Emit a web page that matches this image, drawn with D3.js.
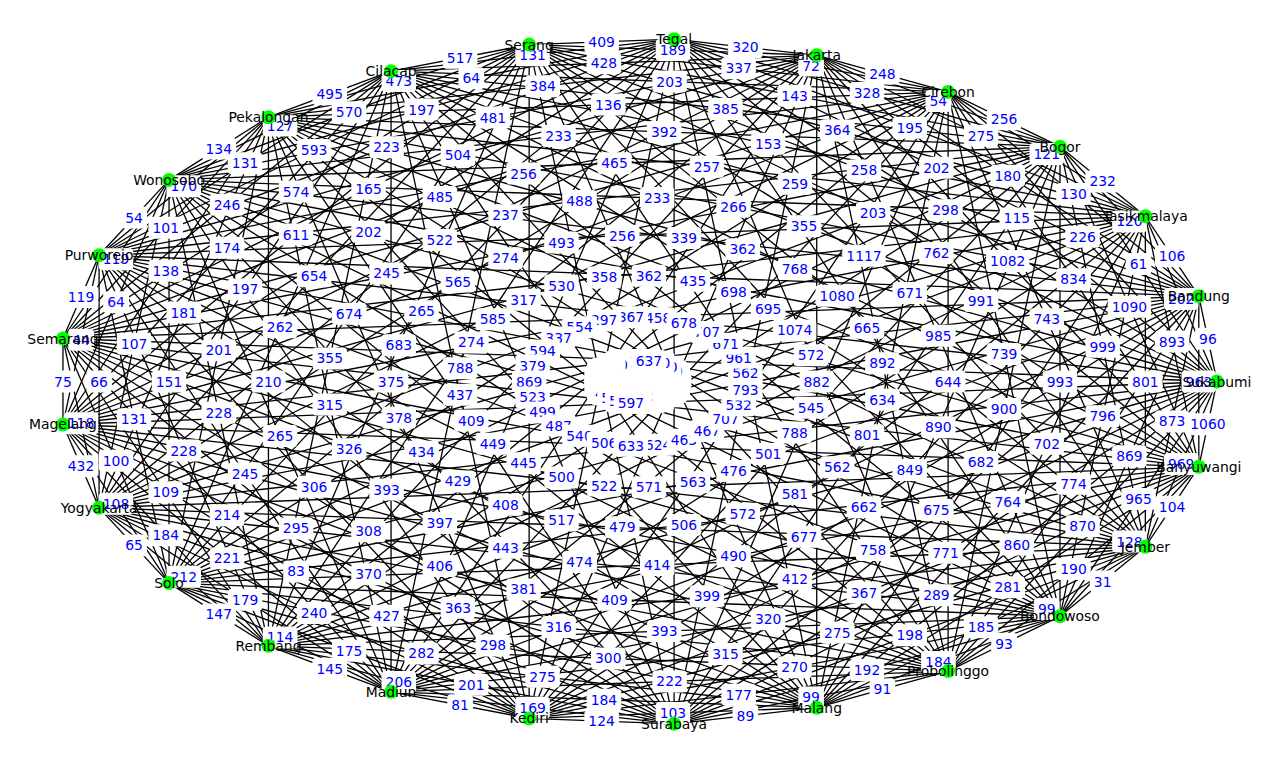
<!DOCTYPE html>
<html>
<head>
<meta charset="utf-8">
<script src="https://cdn.jsdelivr.net/npm/d3@7"></script>
<style>
  body { margin: 0; background: #fff; }
  text { font-family: "DejaVu Sans", sans-serif; font-size: 13.9px; }
</style>
</head>
<body>
<svg id="chart"></svg>
<script>
// cities in layout order (counter-clockwise from the right)
const cities = ["Sukabumi", "Bandung", "Tasikmalaya", "Bogor", "Cirebon", "Jakarta", "Tegal",
  "Serang", "Cilacap", "Pekalongan", "Wonosobo", "Purworejo", "Semarang", "Magelang",
  "Yogyakarta", "Solo", "Rembang", "Madiun", "Kediri", "Surabaya", "Malang", "Probolinggo",
  "Bondowoso", "Jember", "Banyuwangi"];

// distance between city i and city (i + k) % 25, one array per step k
const gap1 = [96, 106, 232, 256, 248, 320, 409, 517, 495, 134, 54, 119, 75, 432, 65, 147, 145, 81, 124, 89, 91, 93, 31, 104, 1060];
const gap2 = [202, 120, 121, 54, 72, 189, 131, 473, 127, 170, 119, 44, 118, 108, 212, 114, 206, 169, 103, 99, 184, 99, 128, 969, 963];
const gap3 = [61, 130, 275, 328, 337, 428, 64, 570, 131, 101, 64, 66, 100, 184, 179, 175, 201, 184, 177, 192, 185, 190, 965, 873, 893];
const gap4 = [226, 180, 195, 143, 203, 384, 197, 593, 246, 138, 107, 131, 109, 221, 240, 282, 275, 222, 270, 198, 281, 870, 869, 801, 1090];
const gap5 = [115, 202, 364, 385, 136, 481, 223, 574, 174, 181, 151, 228, 214, 83, 427, 298, 300, 315, 275, 289, 860, 774, 796, 999, 834];
const gap6 = [298, 258, 153, 392, 233, 504, 165, 611, 197, 201, 228, 245, 295, 370, 363, 316, 393, 320, 367, 771, 764, 702, 993, 743, 1082];
const gap7 = [203, 259, 257, 465, 256, 485, 202, 654, 262, 210, 265, 306, 308, 406, 381, 409, 399, 412, 758, 675, 682, 900, 739, 991, 762];
const gap8 = [355, 266, 233, 488, 237, 522, 245, 674, 355, 315, 326, 393, 397, 443, 474, 414, 490, 677, 662, 849, 890, 644, 985, 671, 1117];
const gap9 = [362, 339, 256, 493, 274, 565, 265, 683, 375, 378, 434, 429, 408, 517, 479, 506, 572, 581, 562, 801, 634, 892, 665, 1080, 768];
const gap10 = [435, 362, 358, 530, 317, 585, 274, 788, 437, 409, 449, 445, 500, 522, 571, 563, 476, 501, 788, 545, 882, 572, 1074, 695, 698];
const gap11 = [458, 367, 297, 554, 337, 594, 379, 869, 523, 499, 487, 540, 506, 633, 624, 463, 467, 707, 532, 793, 562, 961, 671, 707, 678];
const gap12 = [480, 390, 300, 580, 350, 690, 440, 880, 520, 470, 540, 514, 597, 470, 420, 360, 520, 440, 760, 440, 900, 530, 580, 540, 637];

const gaps = [gap1, gap2, gap3, gap4, gap5, gap6, gap7, gap8, gap9, gap10, gap11, gap12];

const width = 1280;
const height = 764;

const svg = d3.select('#chart')
    .attr('width', width)
    .attr('height', height);

svg.append('rect')
    .attr('width', width)
    .attr('height', height)
    .attr('fill', '#fff');

// circular layout, scaled to the figure
const n = cities.length;
const nodes = cities.map(function(name, i) {
  const a = 2 * Math.PI * i / n;
  return {name: name, px: Math.cos(a), py: Math.sin(a)};
});

const x = d3.scaleLinear().domain([-1, 1]).range([58.4, 1217]);
const y = d3.scaleLinear().domain([-1, 1]).range([724.5, 38.5]);

// every pair of cities, drawn in (source, target) order
const edges = [];
gaps.forEach(function(vals, k) {
  vals.forEach(function(v, i) {
    const j = (i + k + 1) % n;
    edges.push({a: Math.min(i, j), b: Math.max(i, j), dist: v});
  });
});
edges.sort((p, q) => p.a - q.a || p.b - q.b);

// edges
svg.append('g')
    .selectAll('line')
    .data(edges)
    .enter()
    .append('line')
    .attr('x1', d => x(nodes[d.a].px))
    .attr('y1', d => y(nodes[d.a].py))
    .attr('x2', d => x(nodes[d.b].px))
    .attr('y2', d => y(nodes[d.b].py))
    .attr('stroke', '#000')
    .attr('stroke-width', 1.3);

// edge labels at midpoints, white rounded box
const labels = svg.append('g');
edges.forEach(function(d) {
  const mx = (x(nodes[d.a].px) + x(nodes[d.b].px)) / 2;
  const my = (y(nodes[d.a].py) + y(nodes[d.b].py)) / 2;
  const g = labels.append('g').attr('transform', 'translate(' + mx + ',' + my + ')');
  const box = g.append('rect');
  const t = g.append('text')
      .attr('text-anchor', 'middle')
      .attr('dy', '0.36em')
      .attr('fill', '#0000ff')
      .text(d.dist);
  const bb = t.node().getBBox();
  box.attr('x', bb.x - 4)
      .attr('y', bb.y - 3)
      .attr('width', bb.width + 8)
      .attr('height', bb.height + 6)
      .attr('rx', 4)
      .attr('fill', '#fff');
});

// nodes
svg.append('g')
    .selectAll('circle')
    .data(nodes)
    .enter()
    .append('circle')
    .attr('cx', d => x(d.px))
    .attr('cy', d => y(d.py))
    .attr('r', 7)
    .attr('fill', '#00ff00');

// node labels
svg.append('g')
    .selectAll('text')
    .data(nodes)
    .enter()
    .append('text')
    .attr('x', d => x(d.px))
    .attr('y', d => y(d.py))
    .attr('dy', '0.36em')
    .attr('text-anchor', 'middle')
    .attr('fill', '#000')
    .text(d => d.name);
</script>
</body>
</html>
